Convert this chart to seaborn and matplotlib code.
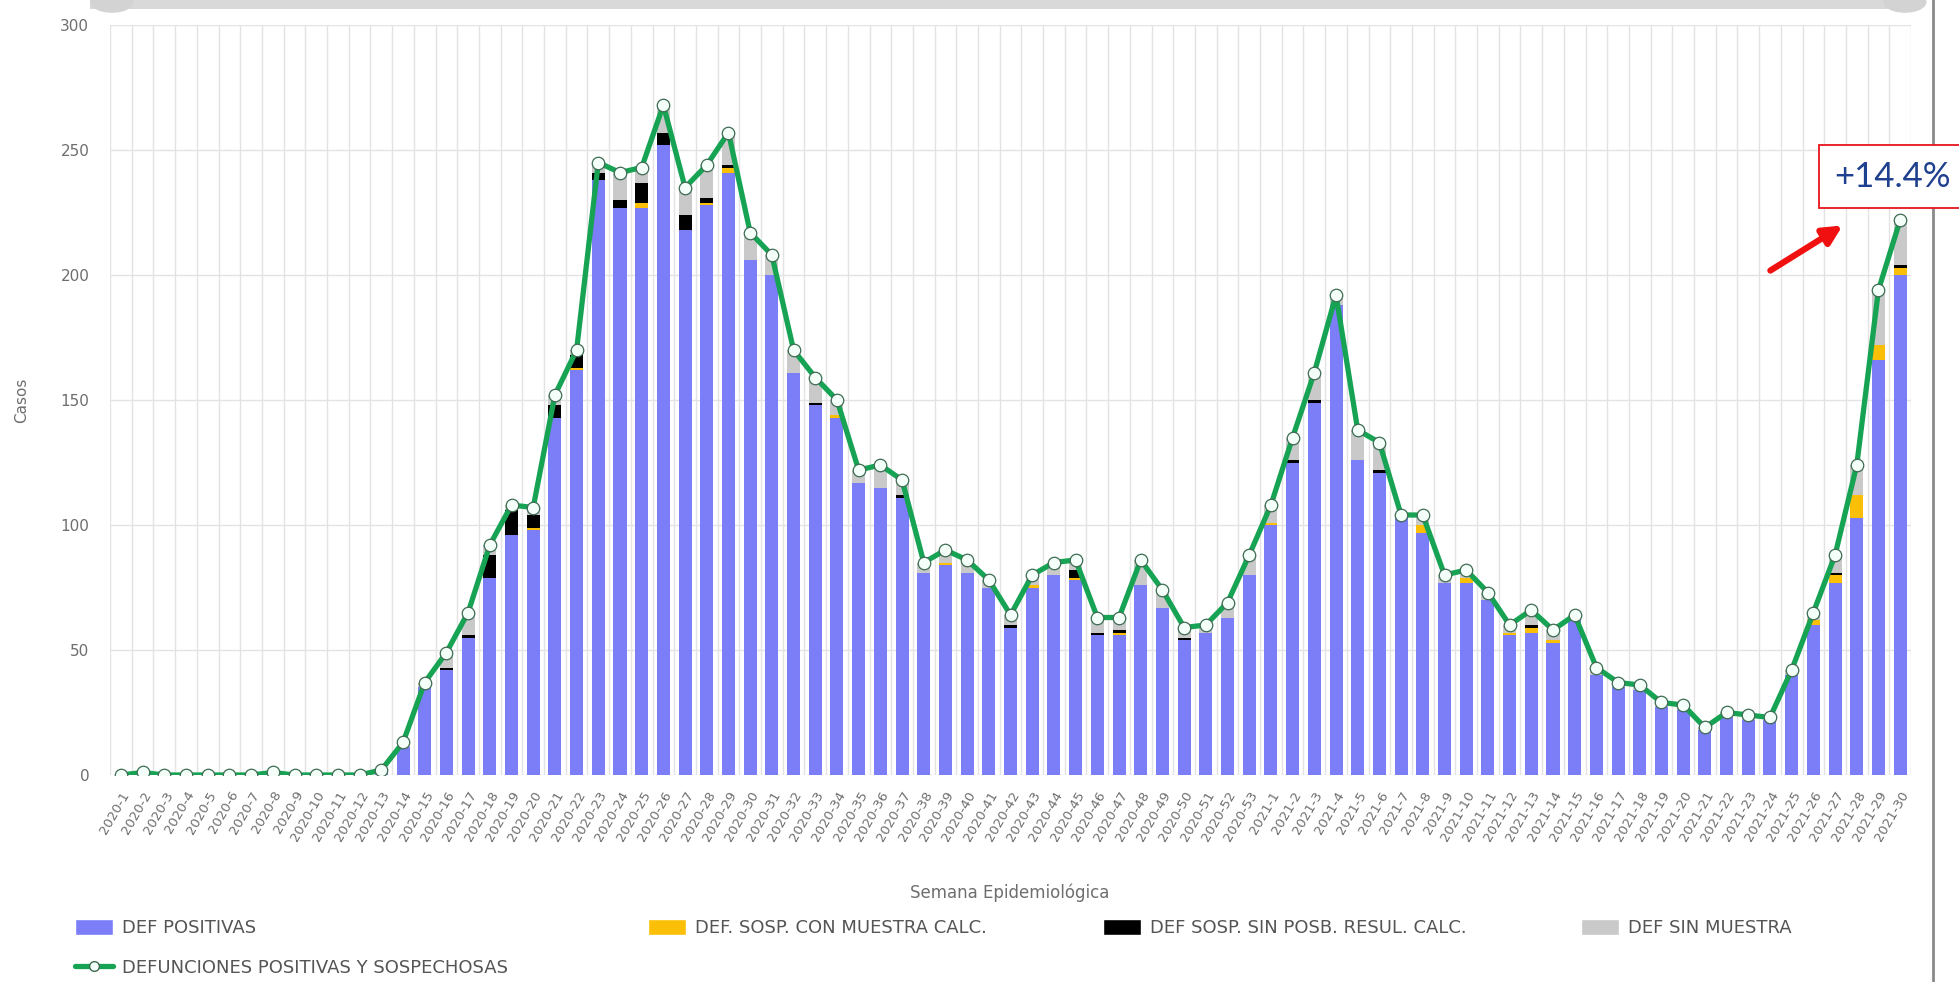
import numpy as np
import pandas as pd
import seaborn as sns
import matplotlib.pyplot as plt
from matplotlib.patches import Patch, Rectangle, FancyArrowPatch, Circle
from matplotlib.lines import Line2D

# weeks
weeks = [f"2020-{i}" for i in range(1, 54)] + [f"2021-{i}" for i in range(1, 31)]

# DEF POSITIVAS
positivas = [0, 1, 0, 0, 0, 0, 0, 1, 0, 0, 0, 0, 2, 11, 35, 42, 55, 79, 96, 98,
             143, 162, 238, 227, 227, 252, 218, 228, 241, 206, 200, 161, 148, 143, 117, 115, 111, 81, 84, 81,
             75, 59, 75, 80, 78, 56, 56, 76, 67, 54, 57, 63, 80,
             100, 125, 149, 188, 126, 121, 103, 97, 77, 77, 70, 56, 57, 53, 63, 40, 35, 34, 27, 26,
             18, 23, 22, 22, 40, 60, 77, 103, 166, 200]
# DEF. SOSP. CON MUESTRA CALC.
con_muestra = [0, 0, 0, 0, 0, 0, 0, 0, 0, 0, 0, 0, 0, 0, 0, 0, 0, 0, 0, 1,
               0, 1, 0, 0, 2, 0, 0, 1, 2, 0, 0, 0, 0, 1, 0, 0, 0, 0, 1, 0,
               0, 0, 1, 0, 1, 0, 1, 0, 0, 0, 0, 0, 0,
               1, 0, 0, 0, 0, 0, 0, 3, 0, 2, 0, 1, 2, 1, 0, 0, 0, 0, 0, 0,
               0, 0, 0, 0, 0, 2, 3, 9, 6, 3]
# DEF SOSP. SIN POSB. RESUL. CALC.
sin_posib = [0, 0, 0, 0, 0, 0, 0, 0, 0, 0, 0, 0, 0, 0, 0, 1, 1, 9, 10, 5,
             5, 5, 3, 3, 8, 5, 6, 2, 1, 0, 0, 0, 1, 0, 0, 0, 1, 0, 0, 0,
             0, 1, 0, 0, 3, 1, 1, 0, 0, 1, 0, 0, 0,
             0, 1, 1, 0, 0, 1, 0, 0, 0, 0, 0, 0, 1, 0, 0, 0, 0, 0, 0, 0,
             0, 0, 0, 0, 0, 0, 1, 0, 0, 1]
# DEF SIN MUESTRA
sin_muestra = [0, 0, 0, 0, 0, 0, 0, 0, 0, 0, 0, 0, 0, 2, 2, 6, 9, 4, 2, 3,
               4, 2, 4, 11, 6, 11, 11, 13, 13, 11, 8, 9, 10, 6, 5, 9, 6, 4, 5, 5,
               3, 4, 4, 5, 4, 6, 5, 10, 7, 4, 3, 6, 8,
               7, 9, 11, 4, 12, 11, 1, 4, 3, 3, 3, 3, 6, 4, 1, 3, 2, 2, 2, 2,
               1, 2, 2, 1, 2, 3, 7, 12, 22, 18]
# DEFUNCIONES POSITIVAS Y SOSPECHOSAS
total = [0, 1, 0, 0, 0, 0, 0, 1, 0, 0, 0, 0, 2, 13, 37, 49, 65, 92, 108, 107,
         152, 170, 245, 241, 243, 268, 235, 244, 257, 217, 208, 170, 159, 150, 122, 124, 118, 85, 90, 86,
         78, 64, 80, 85, 86, 63, 63, 86, 74, 59, 60, 69, 88,
         108, 135, 161, 192, 138, 133, 104, 104, 80, 82, 73, 60, 66, 58, 64, 43, 37, 36, 29, 28,
         19, 25, 24, 23, 42, 65, 88, 124, 194, 222]

df = pd.DataFrame({"semana": weeks, "pos": positivas, "con": con_muestra,
                   "sin": sin_posib, "gris": sin_muestra, "total": total})
# cumulative tops for the stacked bars
df["top_pos"] = df["pos"]
df["top_con"] = df["top_pos"] + df["con"]
df["top_sin"] = df["top_con"] + df["sin"]
df["top_gris"] = df["top_sin"] + df["gris"]

c_blue = "#7b7ef6"
c_yel = "#fcbf08"
c_blk = "#000000"
c_gray = "#c9c9c9"
c_green = "#17a354"
c_txt = "#6e6e6e"

sns.set_theme(style="white")
plt.rcParams["font.family"] = ["DejaVu Sans"]

fig = plt.figure(figsize=(19.59, 9.82), dpi=100)
ax = fig.add_axes([0.0562, 0.2108, 0.9193, 0.7637])

# stacked bars drawn from the tallest layer down
for col, color in [("top_gris", c_gray), ("top_sin", c_blk), ("top_con", c_yel), ("top_pos", c_blue)]:
    sns.barplot(data=df, x="semana", y=col, color=color, width=0.6, saturation=1,
                ax=ax, zorder=2, linewidth=0)

x = np.arange(len(weeks))
sns.lineplot(x=x, y=df["total"], ax=ax, color=c_green, lw=3.8, sort=False, zorder=3,
             marker="o", markersize=9, markerfacecolor="#f3fff8", markeredgecolor="#3d6b52",
             markeredgewidth=0.9)

ax.set_xlim(-0.5, len(weeks) - 0.5)
ax.set_ylim(0, 300)
ax.set_yticks(range(0, 301, 50))
ax.set_xticks(x)
ax.set_xticklabels(weeks, rotation=60, ha="right", rotation_mode="anchor", fontsize=9.5, color=c_txt)
ax.set_xticks(np.arange(-0.5, len(weeks)), minor=True)
ax.tick_params(axis="y", length=0, pad=15, labelsize=11, labelcolor=c_txt)
ax.tick_params(axis="x", which="both", length=0, pad=10)
ax.grid(axis="y", which="major", color="#e3e3e3", lw=1)
ax.grid(axis="x", which="minor", color="#e3e3e3", lw=1)
ax.grid(axis="x", which="major", visible=False)
for s in ax.spines.values():
    s.set_visible(False)
ax.set_xlabel("")
ax.set_ylabel("Casos", fontsize=11, color=c_txt)
ax.yaxis.set_label_coords(-0.045, 0.5)

fig.text(0.5156, 0.0906, "Semana Epidemiológica", ha="center", va="center", fontsize=12, color=c_txt)

# legend items placed one by one like the original html legend
items = [
    (Patch(facecolor=c_blue), "DEF POSITIVAS", 75, 928),
    (Patch(facecolor=c_yel), "DEF. SOSP. CON MUESTRA CALC.", 648, 928),
    (Patch(facecolor=c_blk), "DEF SOSP. SIN POSB. RESUL. CALC.", 1103, 928),
    (Patch(facecolor=c_gray), "DEF SIN MUESTRA", 1581, 928),
    (Line2D([], [], color=c_green, lw=3.8, marker="o", markersize=7, markerfacecolor="#f3fff8",
            markeredgecolor="#3d6b52"), "DEFUNCIONES POSITIVAS Y SOSPECHOSAS", 75, 968),
]
for handle, label, px, py in items:
    leg = fig.legend([handle], [label], loc="center left", bbox_to_anchor=(px / 1959, 1 - py / 982),
                     frameon=False, borderpad=0, borderaxespad=0, handlelength=2.1, handleheight=1.05,
                     handletextpad=0.5, fontsize=13)
    for t in leg.get_texts():
        t.set_color("#555555")

# annotation box and arrow
fig.patches.append(Rectangle((1819 / 1959, 1 - 208 / 982), 0.1, 63 / 982, transform=fig.transFigure,
                             facecolor="white", edgecolor="#e8141b", lw=1.3, zorder=5))
fig.text(1892 / 1959, 1 - 177 / 982, "+14.4%", ha="center", va="center", fontsize=25,
         family="Lato", color="#1f3f8f", zorder=6)
fig.patches.append(FancyArrowPatch((1768 / 1959, 1 - 272 / 982), (1845 / 1959, 1 - 224 / 982),
                                   transform=fig.transFigure, arrowstyle="-|>", mutation_scale=28,
                                   color="#f01010", lw=4.5, zorder=6))

# screenshot chrome: scrollbar on top and right border
fig.patches.append(Rectangle((90 / 1959, 1 - 9 / 982), 1830 / 1959, 9 / 982, transform=fig.transFigure,
                             facecolor="#d9d9d9", edgecolor="none"))
fig.patches.append(Circle((112 / 1959, 1 - 2 / 982), 0.011, transform=fig.transFigure,
                          facecolor="#d3d3d3", edgecolor="none"))
fig.patches.append(Circle((1905 / 1959, 1 - 2 / 982), 0.011, transform=fig.transFigure,
                          facecolor="#d3d3d3", edgecolor="none"))
fig.add_artist(Line2D([1933 / 1959, 1933 / 1959], [0, 1], transform=fig.transFigure, color="#8a8a8a", lw=2))

fig.savefig("out.png", dpi=100, facecolor="white")
